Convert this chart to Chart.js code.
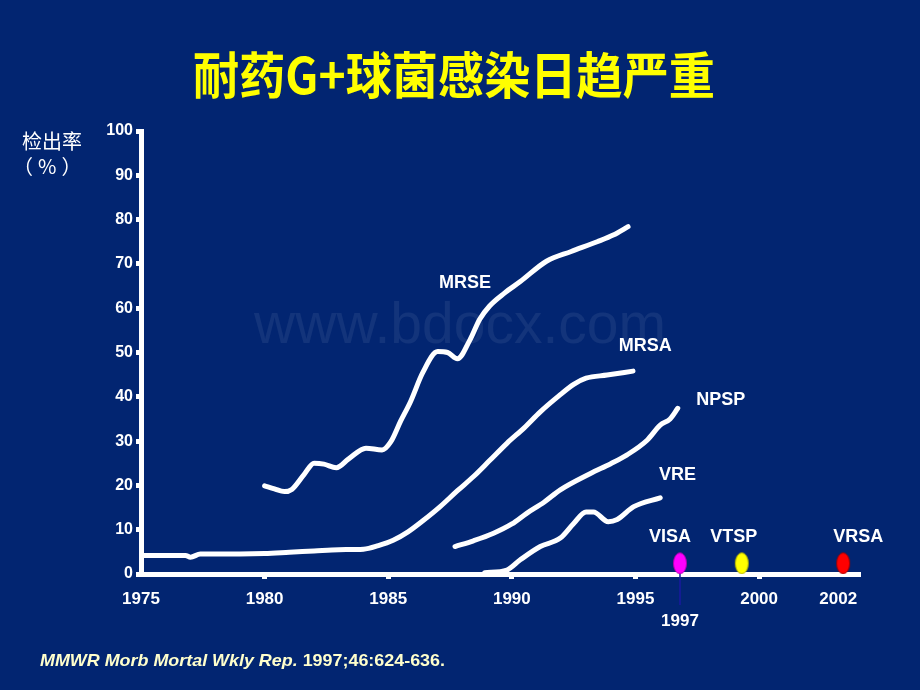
<!DOCTYPE html>
<html>
<head>
<meta charset="utf-8">
<script src="https://cdn.jsdelivr.net/npm/chart.js@4"></script>
<style>
html,body{margin:0;padding:0;background:#022571;}
#c{display:block;}
</style>
</head>
<body>
<canvas id="c" width="920" height="690"></canvas>
<script>
// ---- data ----
const titleText = '耐药G+球菌感染日趋严重';
const yTitle1 = '检出率';
const yTitle2 = '（%）';
const citeItalic = 'MMWR Morb Mortal Wkly Rep.';
const citeNormal = ' 1997;46:624-636.';

const tickYears  = [1975, 1980, 1985, 1990, 1995, 2000, 2003.2];
const tickLabels = ['1975', '1980', '1985', '1990', '1995', '2000', '2002'];
const yTicks = [0, 10, 20, 30, 40, 50, 60, 70, 80, 90, 100];

const mrsaYears  = [1975, 1976, 1976.8, 1977.0, 1977.4, 1978, 1979, 1980, 1981, 1982, 1983, 1984, 1984.6, 1985.2, 1985.8, 1986.4, 1987.1, 1987.8, 1988.45, 1989.1, 1989.8, 1990.5, 1991.15, 1991.9, 1992.5, 1993.0, 1993.85, 1994.9];
const mrsaValues = [4.2, 4.2, 4.2, 3.8, 4.5, 4.5, 4.5, 4.6, 4.9, 5.2, 5.5, 5.6, 6.4, 7.6, 9.5, 12.0, 15.2, 18.8, 22.0, 25.6, 29.5, 33.0, 36.6, 40.2, 42.8, 44.2, 44.9, 45.8];

const mrseYears  = [1980.0, 1980.4, 1980.8, 1981.1, 1981.6, 1982.0, 1982.4, 1982.9, 1983.4, 1984.1, 1984.75, 1985.1, 1985.5, 1985.9, 1986.4, 1987.0, 1987.4, 1987.8, 1988.3, 1988.7, 1989.1, 1989.7, 1990.34, 1991.4, 1992.4, 1993.45, 1994.1, 1994.7];
const mrseValues = [19.9, 19.2, 18.6, 19.1, 22.5, 25.0, 24.8, 24.0, 26.0, 28.4, 28.0, 29.8, 34.5, 38.9, 45.5, 50.2, 50.0, 48.6, 52.8, 57.5, 60.5, 63.4, 66.0, 70.6, 72.8, 75.0, 76.5, 78.4];

const npspYears  = [1987.7, 1988.45, 1989.26, 1990.0, 1990.6, 1991.3, 1991.96, 1993.18, 1994.0, 1994.66, 1995.47, 1996.0, 1996.4, 1996.71];
const npspValues = [6.2, 7.5, 9.2, 11.3, 13.7, 16.2, 19.0, 22.7, 24.9, 26.9, 30.2, 33.6, 35.0, 37.4];

const vreYears  = [1988.9, 1989.8, 1990.34, 1991.15, 1991.96, 1992.5, 1993.0, 1993.3, 1993.9, 1994.26, 1994.93, 1996.0];
const vreValues = [0.3, 0.9, 3.2, 6.2, 8.1, 11.4, 14.0, 14.0, 11.8, 12.3, 15.2, 17.2];

const markerNames  = ['VISA', 'VTSP', 'VRSA'];
const markerYears  = [1996.8, 1999.3, 2003.4];
const markerValues = [2.4, 2.4, 2.4];
const markerColors = ['#ff00ff', '#ffff00', '#ff0000'];
const markerEdges  = ['#b000b0', '#b0b000', '#a00000'];
const visaYearLabel = '1997';

const curveNames  = ['MRSE', 'MRSA', 'NPSP', 'VRE'];
const curveLabelYears  = [1988.1, 1995.4, 1998.45, 1996.7];
const curveLabelValues = [65.7, 51.5, 39.3, 22.3];

// ---- helpers ----
const zip = (xs, ys) => xs.map((x, i) => ({x: x, y: ys[i]}));
function ellipseCanvas(fill, edge) {
  const c = document.createElement('canvas');
  c.width = 16; c.height = 24;
  const g = c.getContext('2d');
  g.beginPath();
  g.ellipse(8, 12, 6.5, 10.5, 0, 0, Math.PI * 2);
  g.fillStyle = fill; g.fill();
  g.lineWidth = 1; g.strokeStyle = edge; g.stroke();
  return c;
}
const markerImages = markerColors.map((c, i) => ellipseCanvas(c, markerEdges[i]));

const BG = '#022571';
const lineDS = (pts) => ({
  type: 'line', data: pts, borderColor: '#ffffff', borderWidth: 5,
  pointRadius: 0, fill: false, cubicInterpolationMode: 'monotone',
  borderCapStyle: 'round', borderJoinStyle: 'round'
});

const decor = {
  id: 'decor',
  beforeDraw(chart) {
    const ctx = chart.ctx;
    ctx.save();
    ctx.fillStyle = BG;
    ctx.fillRect(0, 0, chart.width, chart.height);
    // watermark
    ctx.fillStyle = 'rgba(255,255,255,0.07)';
    ctx.font = '57px "Liberation Sans", Arial, sans-serif';
    ctx.textAlign = 'center';
    ctx.textBaseline = 'alphabetic';
    ctx.fillText('www.bdocx.com', 460, 343);
    ctx.restore();
  },
  beforeDatasetsDraw(chart) {
    const ctx = chart.ctx, xs = chart.scales.x, ys = chart.scales.y;
    ctx.save();
    const vx = xs.getPixelForValue(markerYears[0]);
    ctx.strokeStyle = '#1a1aa0';
    ctx.lineWidth = 1.5;
    ctx.beginPath();
    ctx.moveTo(vx, ys.getPixelForValue(markerValues[0]));
    ctx.lineTo(vx, ys.getPixelForValue(0) + 31);
    ctx.stroke();
    ctx.restore();
  },
  afterDraw(chart) {
    const ctx = chart.ctx, xs = chart.scales.x, ys = chart.scales.y;
    ctx.save();
    // title
    ctx.font = 'bold 50px "Noto Sans CJK SC", sans-serif';
    ctx.fillStyle = '#ffff00';
    ctx.textAlign = 'center';
    ctx.textBaseline = 'middle';
    const tw = ctx.measureText(titleText).width;
    const sx = 522 / tw;
    ctx.save();
    ctx.translate(454, 75);
    ctx.scale(sx, 1);
    ctx.fillText(titleText, 0, 0);
    ctx.restore();
    // y axis title
    ctx.fillStyle = '#ffffff';
    ctx.font = '20px "Noto Sans CJK SC", sans-serif';
    ctx.fillText(yTitle1, 52, 141);
    ctx.save();
    ctx.textAlign = 'left';
    ctx.font = '20px "Noto Sans CJK SC", sans-serif';
    ctx.letterSpacing = '5px';
    ctx.fillText(yTitle2, 13, 166);
    ctx.restore();
    // curve labels
    ctx.font = 'bold 18px "Liberation Sans", Arial, sans-serif';
    curveNames.forEach((n, i) => {
      ctx.fillText(n, xs.getPixelForValue(curveLabelYears[i]), ys.getPixelForValue(curveLabelValues[i]));
    });
    // marker labels
    const markerLabelOffsets = [-10, -8, 15];
    markerNames.forEach((n, i) => {
      ctx.fillText(n, xs.getPixelForValue(markerYears[i]) + markerLabelOffsets[i], ys.getPixelForValue(markerValues[i]) - 26);
    });
    // 1997 label
    ctx.font = 'bold 17px "Liberation Sans", Arial, sans-serif';
    ctx.fillText(visaYearLabel, xs.getPixelForValue(markerYears[0]), ys.getPixelForValue(0) + 47);
    // citation
    ctx.fillStyle = '#ffffcc';
    ctx.textAlign = 'left';
    ctx.font = 'italic bold 17px "Liberation Sans", Arial, sans-serif';
    const w1 = ctx.measureText(citeItalic).width;
    ctx.font = 'bold 17px "Liberation Sans", Arial, sans-serif';
    const w2 = ctx.measureText(citeNormal).width;
    const cs = 405 / (w1 + w2);
    ctx.save();
    ctx.translate(40, 661);
    ctx.scale(cs, 1);
    ctx.font = 'italic bold 17px "Liberation Sans", Arial, sans-serif';
    ctx.fillText(citeItalic, 0, 0);
    ctx.font = 'bold 17px "Liberation Sans", Arial, sans-serif';
    ctx.fillText(citeNormal, w1, 0);
    ctx.restore();
    ctx.restore();
  }
};

new Chart(document.getElementById('c'), {
  data: {
    datasets: [
      lineDS(zip(mrsaYears, mrsaValues)),
      lineDS(zip(mrseYears, mrseValues)),
      lineDS(zip(npspYears, npspValues)),
      lineDS(zip(vreYears, vreValues)),
      {
        type: 'scatter', data: zip(markerYears, markerValues),
        pointStyle: markerImages, pointRadius: 8, pointHoverRadius: 8
      }
    ]
  },
  options: {
    responsive: false, animation: false, devicePixelRatio: 1,
    layout: {padding: {left: 0, top: 131, right: 62, bottom: 0}},
    plugins: {legend: {display: false}, tooltip: {enabled: false}, title: {display: false}},
    scales: {
      x: {
        type: 'linear', min: 1975, max: 2004,
        afterFit: s => { s.height = 116; },
        afterBuildTicks: s => { s.ticks = tickYears.map(v => ({value: v})); },
        ticks: {
          color: '#ffffff', padding: 10, maxRotation: 0, autoSkip: false,
          font: {family: '"Liberation Sans", Arial, sans-serif', weight: 'bold', size: 17},
          callback: (v, i) => tickLabels[i]
        },
        grid: {
          drawOnChartArea: false, tickLength: 5, lineWidth: 5,
          color: c => (c.index === 0 || c.index === tickYears.length - 1) ? 'rgba(0,0,0,0)' : '#ffffff'
        },
        border: {display: true, color: '#ffffff', width: 5}
      },
      y: {
        type: 'linear', min: 0, max: 100,
        afterFit: s => { s.width = 141; },
        afterBuildTicks: s => { s.ticks = yTicks.map(v => ({value: v})); },
        ticks: {
          color: '#ffffff', padding: 3,
          font: {family: '"Liberation Sans", Arial, sans-serif', weight: 'bold', size: 16}
        },
        grid: {drawOnChartArea: false, tickLength: 5, lineWidth: 5, color: '#ffffff'},
        border: {display: true, color: '#ffffff', width: 5}
      }
    }
  },
  plugins: [decor]
});
</script>
</body>
</html>
